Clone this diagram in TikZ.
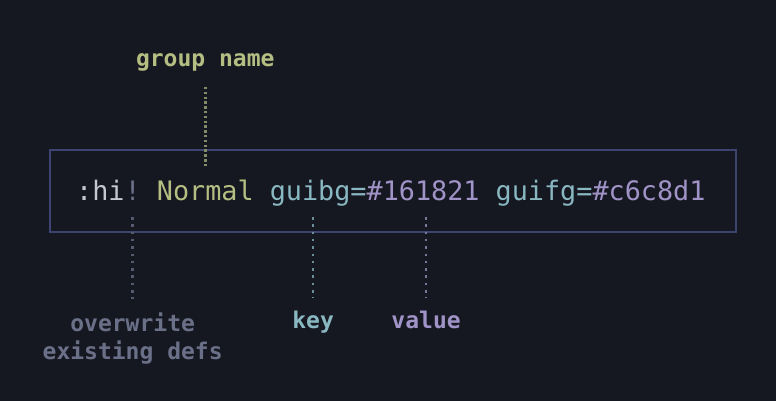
\documentclass[tikz,border=0pt]{standalone}
\usepackage{fontspec}
\setmonofont{DejaVu Sans Mono}
\usetikzlibrary{positioning}
\definecolor{bg}{HTML}{161821}
\definecolor{fg}{HTML}{C6C8D1}
\definecolor{cmt}{HTML}{6B7089}
\definecolor{grn}{HTML}{B4BE82}
\definecolor{cyn}{HTML}{89B8C2}
\definecolor{prp}{HTML}{A093C7}
\definecolor{frame}{HTML}{3D4472}
\tikzstyle{code}=[inner sep=0pt,outer sep=0pt,font=\ttfamily\fontsize{26.8}{32}\selectfont]
\tikzstyle{lbl}=[inner sep=0pt,outer sep=0pt,align=center,font=\ttfamily\bfseries\fontsize{23}{28}\selectfont]
\tikzstyle{tick}=[line width=2.5pt,dash pattern=on 2.5pt off 4.8pt]

\begin{document}
\begin{tikzpicture}[x=1pt,y=-1pt,node distance=16.13pt]
    \fill[bg] (0,0) rectangle (776,401);
    \useasboundingbox (0,0) rectangle (776,401);
    \draw[frame,line width=2.8pt] (50,150) rectangle (736,232);

    % the command, piece by piece
    \node[code,fg,anchor=base west] (hi) at (76.2,200) {:hi};
    \node[code,cmt,base right=0pt of hi] (bang) {!};
    \node[code,grn,base right=of bang] (grp) {Normal};
    \node[code,cyn,base right=of grp] (gbg) {guibg};
    \node[code,cyn,base right=0pt of gbg] (eqa) {=};
    \node[code,prp,base right=0pt of eqa] (bgval) {\#161821};
    \node[code,cyn,base right=of bgval] (gfg) {guifg=};
    \node[code,prp,base right=0pt of gfg] (fgval) {\#c6c8d1};

    % labels
    \node[lbl,grn,anchor=base] (grpname) at ([yshift=133pt]grp.base) {group name};
    \node[lbl,cmt,anchor=base] (over) at ([yshift=-159pt]bang.base) {overwrite\\existing defs};
    \node[lbl,cyn,anchor=base] (key) at ([xshift=3pt,yshift=-128pt]gbg.base) {key};
    \node[lbl,prp,anchor=base] (val) at ([xshift=3pt,yshift=-128pt]bgval.base) {value};

    \draw[tick,grn!70!bg,dash pattern=on 2.5pt off 2.3pt] ([yshift=-20pt]grpname.base) -- ([yshift=34pt]grp.base);
    \foreach \src/\dst/\col in {bang/over/cmt, gbg/key/cyn, bgval/val/prp}
        \draw[tick,\col!75!bg] ([yshift=-17pt]\src.base -| \dst.base) -- ([yshift=13pt]\dst.north);
\end{tikzpicture}
\end{document}
